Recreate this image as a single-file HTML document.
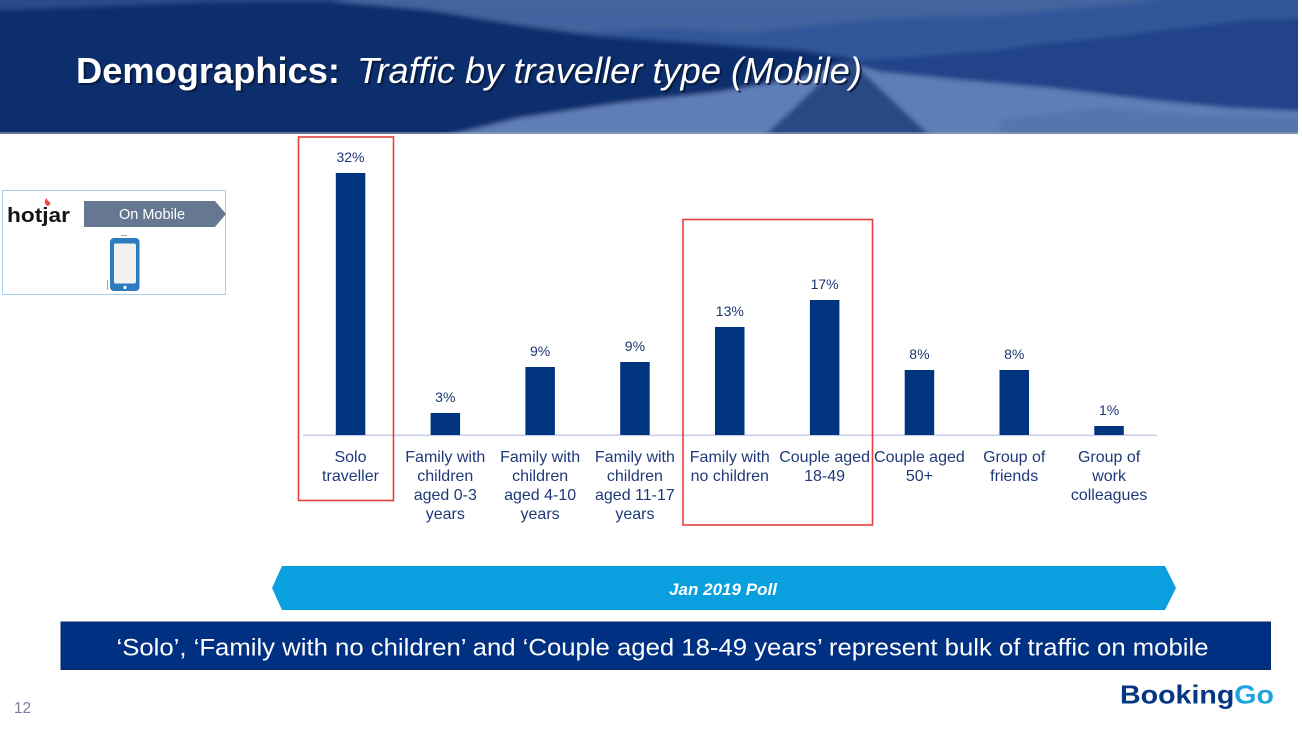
<!DOCTYPE html>
<html>
<head>
<meta charset="utf-8">
<style>
html,body{margin:0;padding:0;background:#ffffff;}
svg{display:block;}
text{font-family:"Liberation Sans", Arial, sans-serif;}
</style>
</head>
<body>
<svg width="1302" height="733" viewBox="0 0 1302 733" xmlns="http://www.w3.org/2000/svg">
  <defs>
    <linearGradient id="sky" x1="0" y1="0" x2="0" y2="1">
      <stop offset="0" stop-color="#4565a0"/>
      <stop offset="1" stop-color="#3a5b97"/>
    </linearGradient>
    <filter id="soft" x="-5%" y="-5%" width="110%" height="110%">
      <feGaussianBlur stdDeviation="2.5"/>
    </filter>
    <clipPath id="hdrclip"><rect x="0" y="0" width="1298" height="134"/></clipPath>
  </defs>

  <!-- Header background -->
  <g clip-path="url(#hdrclip)">
    <rect x="0" y="0" width="1298" height="134" fill="#13326f"/>
    <g filter="url(#soft)">
      <rect x="-10" y="-10" width="1320" height="160" fill="url(#sky)"/>
      <!-- distant mountains -->
      <polygon fill="#33579a" points="460,60 520,40 577,33 667,28 743,33 793,28 833,23 867,20 900,18 1000,15 1033,12 1133,3 1177,-5 1310,-5 1310,140 460,140"/>
      <!-- right forest -->
      <polygon fill="#22438a" points="760,75 820,62 900,58 1000,50 1030,45 1100,38 1180,28 1250,20 1310,18 1310,120 1200,112 1100,98 1000,90 900,82 800,80"/>
      <!-- dark hill -->
      <polygon fill="#102f6d" points="-10,10 100,6 200,2 330,1 430,10 520,25 600,36 700,43 800,50 850,58 860,64 800,78 720,92 620,103 520,118 440,140 -10,140"/>
      <!-- top-left lighter sky strip -->
      <polygon fill="#2c4c8a" points="-10,-10 400,-10 330,1 200,2 100,6 -10,10"/>
      <!-- snow -->
      <polygon fill="#5f7eb7" points="430,140 520,118 620,103 720,92 800,78 845,62 880,72 960,80 1050,88 1150,100 1230,108 1310,112 1310,140"/>
      <polygon fill="#5574ae" points="1000,120 1100,108 1200,116 1310,118 1310,140 1000,140"/>
      <!-- road -->
      <polygon fill="#2a4884" points="842,62 852,62 935,140 760,140"/>
    </g>
    <rect x="0" y="132" width="1298" height="2" fill="#9aa3b8" opacity="0.6"/>
  </g>

  <!-- Title with shadow -->
  <g font-size="36">
    <text x="78" y="85" font-weight="bold" fill="#081838" opacity="0.8" textLength="264" lengthAdjust="spacingAndGlyphs">Demographics:</text>
    <text x="359" y="85" font-style="italic" fill="#081838" opacity="0.8" textLength="505" lengthAdjust="spacingAndGlyphs">Traffic by traveller type (Mobile)</text>
    <text x="76" y="83" font-weight="bold" fill="#ffffff" textLength="264" lengthAdjust="spacingAndGlyphs">Demographics:</text>
    <text x="357" y="83" font-style="italic" fill="#ffffff" textLength="505" lengthAdjust="spacingAndGlyphs">Traffic by traveller type (Mobile)</text>
  </g>

  <!-- Hotjar box -->
  <rect x="2.5" y="190.5" width="223" height="104" fill="#ffffff" stroke="#a6cfea" stroke-width="1"/>
  <text x="7" y="222" font-size="20" font-weight="bold" fill="#141414" textLength="63" lengthAdjust="spacingAndGlyphs">hotjar</text>
  <path d="M46,205 q-3,-4 1,-7 q0,3 3,4 q1,3 -2,4 z" fill="#f04b3c"/>
  <polygon points="84,201 215,201 226,214 215,227 84,227" fill="#667891"/>
  <text x="119" y="219" font-size="14.5" fill="#ffffff" textLength="66" lengthAdjust="spacingAndGlyphs">On Mobile</text>
  <!-- phone -->
  <rect x="110" y="238" width="29.5" height="53" rx="4" ry="4" fill="#2e7bbf"/>
  <rect x="114" y="243.5" width="22" height="40" rx="2" ry="2" fill="#f1f1f1"/>
  <circle cx="125" cy="287.5" r="1.6" fill="#ffffff"/>
  <rect x="121" y="235" width="6" height="1" fill="#9aa"/>
  <rect x="107" y="280" width="1" height="10" fill="#aab"/>

  <!-- Axis baseline -->
  <rect x="303" y="434.5" width="854" height="1.6" fill="#c9cfea"/>

  <!-- Bars -->
  <g fill="#00347f">
    <rect x="335.8" y="173" width="29.5" height="262"/>
    <rect x="430.6" y="413" width="29.5" height="22"/>
    <rect x="525.4" y="367" width="29.5" height="68"/>
    <rect x="620.2" y="362" width="29.5" height="73"/>
    <rect x="715.0" y="327" width="29.5" height="108"/>
    <rect x="809.9" y="300" width="29.5" height="135"/>
    <rect x="904.7" y="370" width="29.5" height="65"/>
    <rect x="999.5" y="370" width="29.5" height="65"/>
    <rect x="1094.3" y="426" width="29.5" height="9"/>
  </g>

  <!-- Value labels -->
  <g font-size="14" fill="#1c3572" text-anchor="middle">
    <text x="350.5" y="162">32%</text>
    <text x="445.3" y="402">3%</text>
    <text x="540.1" y="356">9%</text>
    <text x="634.9" y="351">9%</text>
    <text x="729.8" y="316">13%</text>
    <text x="824.6" y="289">17%</text>
    <text x="919.4" y="359">8%</text>
    <text x="1014.2" y="359">8%</text>
    <text x="1109.1" y="415">1%</text>
  </g>

  <!-- Category labels -->
  <g font-size="16" fill="#1f3978" text-anchor="middle">
    <text x="350.5" y="462">Solo</text>
    <text x="350.5" y="481">traveller</text>

    <text x="445.3" y="462">Family with</text>
    <text x="445.3" y="481">children</text>
    <text x="445.3" y="500">aged 0-3</text>
    <text x="445.3" y="519">years</text>

    <text x="540.1" y="462">Family with</text>
    <text x="540.1" y="481">children</text>
    <text x="540.1" y="500">aged 4-10</text>
    <text x="540.1" y="519">years</text>

    <text x="634.9" y="462">Family with</text>
    <text x="634.9" y="481">children</text>
    <text x="634.9" y="500">aged 11-17</text>
    <text x="634.9" y="519">years</text>

    <text x="729.8" y="462">Family with</text>
    <text x="729.8" y="481">no children</text>

    <text x="824.6" y="462">Couple aged</text>
    <text x="824.6" y="481">18-49</text>

    <text x="919.4" y="462">Couple aged</text>
    <text x="919.4" y="481">50+</text>

    <text x="1014.2" y="462">Group of</text>
    <text x="1014.2" y="481">friends</text>

    <text x="1109.1" y="462">Group of</text>
    <text x="1109.1" y="481">work</text>
    <text x="1109.1" y="500">colleagues</text>
  </g>

  <!-- Red highlight boxes -->
  <rect x="298.5" y="137" width="95" height="363.5" fill="none" stroke="#e5403c" stroke-width="1.6"/>
  <rect x="683" y="219.5" width="189.5" height="305.5" fill="none" stroke="#e5403c" stroke-width="1.6"/>

  <!-- Jan 2019 Poll banner -->
  <polygon points="272,588 282,566 1165,566 1176,588 1165,610 282,610" fill="#0aa0df"/>
  <text x="669" y="595" font-size="17" font-weight="bold" font-style="italic" fill="#ffffff" textLength="108" lengthAdjust="spacingAndGlyphs">Jan 2019 Poll</text>

  <!-- Bottom conclusion bar -->
  <rect x="61" y="622" width="1209.5" height="47.5" fill="#003082" stroke="#0b2866" stroke-width="1"/>
  <text x="116.5" y="655.5" font-size="24" fill="#ffffff" textLength="1092" lengthAdjust="spacingAndGlyphs">‘Solo’, ‘Family with no children’ and ‘Couple aged 18-49 years’ represent bulk of traffic on mobile</text>

  <!-- Page number -->
  <text x="14" y="713" font-size="16" fill="#7c7c9c" textLength="17" lengthAdjust="spacingAndGlyphs">12</text>

  <!-- BookingGo logo -->
  <text x="1120" y="703.5" font-size="26" font-weight="bold" textLength="154" lengthAdjust="spacingAndGlyphs"><tspan fill="#053683">Booking</tspan><tspan fill="#1fa3e0">Go</tspan></text>
</svg>
</body>
</html>
